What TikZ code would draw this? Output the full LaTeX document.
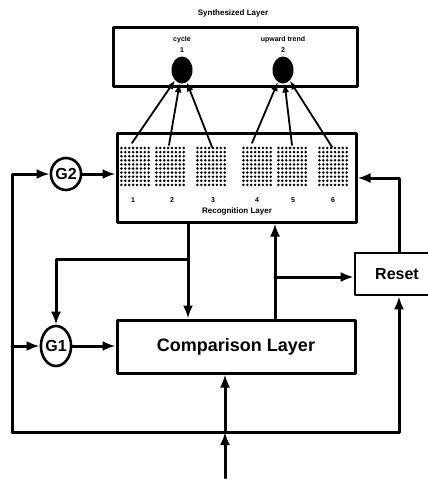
\documentclass[tikz,border=0pt]{standalone}
\usepackage{fontspec}
\setmainfont{Liberation Sans}
\usetikzlibrary{arrows.meta,shapes.geometric}
\begin{document}
\begin{tikzpicture}[x=1pt,y=-1pt,line cap=round,line join=round,
  layer/.style={draw,line width=3pt,inner sep=0pt},
  gate/.style={draw,ellipse,line width=2.6pt,inner sep=0pt,font=\fontsize{16}{16}\selectfont\bfseries},
  unit/.style={ellipse,fill=black,minimum width=21pt,minimum height=27pt,inner sep=0pt},
  lbl/.style={font=\fontsize{7}{8}\selectfont\bfseries,inner sep=0pt},
  arr/.style={line width=3pt,-{Latex[length=13pt,width=10pt]}},
  link/.style={line width=1.8pt,-{Latex[length=9pt,width=7pt]}}]
  \useasboundingbox (0,0) rectangle (428,479);
  % layers
  \node[layer,minimum width=244pt,minimum height=59pt] (synth) at (235,56.5) {};
  \node[layer,minimum width=239pt,minimum height=89pt] (recog) at (236.5,177.5) {};
  \node[layer,minimum width=238pt,minimum height=53pt,font=\fontsize{18}{18}\selectfont\bfseries] (comp) at (236,346.5) {Comparison Layer};
  \node[layer,line width=2.6pt,minimum width=84pt,minimum height=42pt,font=\fontsize{16}{16}\selectfont\bfseries] (reset) at (397,274) {Reset};
  \node[font=\fontsize{8}{9}\selectfont\bfseries] (synthtitle) at (233,13) {Synthesized Layer};
  % synthesized units
  \node[unit] (c1) at (182,70) {};
  \node[unit] (c2) at (283,70) {};
  \node[lbl] (cyc) at (182,40) {cycle};
  \node[lbl] (cycn) at (182,50) {1};
  \node[lbl] (upw) at (283,40) {upward trend};
  \node[lbl] (upwn) at (283,50) {2};
  % recognition grids
  \foreach \gx in {120,155,196,242,277,318}
    \foreach \i in {0,...,7}
      \foreach \j in {0,...,9}
        \fill (\gx+\i*3.9+1.4,148+\j*4.1) circle (1.4pt);
  \foreach \n/\gx in {1/133,2/172,3/213,4/257,5/293,6/333}
    \node[lbl] (num\n) at (\gx,200) {\n};
  \node[font=\fontsize{8}{9}\selectfont\bfseries] (recogtitle) at (237,211) {Recognition Layer};
  \coordinate (s1) at (132,143);
  \coordinate (s2) at (169,145);
  \coordinate (s3) at (212,147);
  \coordinate (s4) at (252,143);
  \coordinate (s5) at (292,145);
  \coordinate (s6) at (332,147);
  \draw[link] (s1) -- (c1);
  \draw[link] (s2) -- (c1);
  \draw[link] (s3) -- (c1);
  \draw[link] (s4) -- (c2);
  \draw[link] (s5) -- (c2);
  \draw[link] (s6) -- (c2);
  % gain units
  \node[gate,minimum width=28pt,minimum height=32pt] (g2) at (66,174) {G2};
  \node[gate,minimum width=28pt,minimum height=40pt] (g1) at (56,346) {G1};
  % connections
  \coordinate (bl) at (12,432);
  \coordinate (in) at (225,478);
  \coordinate (inj) at (225,432);
  \coordinate (b1) at (188,259);
  \coordinate (b2) at (275,277);
  \draw[arr] (recog.south -| b1) -- (comp.north -| b1);
  \draw[arr] (b1) -| (g1.north);
  \draw[arr] (comp.north -| b2) -- (recog.south -| b2);
  \draw[arr] (b2) -- (reset.west |- b2);
  \draw[arr] (reset.north -| 399,0) |- (recog.east |- 0,178);
  \draw[arr] (bl) |- (g2.west);
  \draw[arr] (bl |- g1.west) -- (g1.west);
  \draw[arr] (bl) -| (reset.south -| 399,0);
  \draw[arr] (g2) -- (recog.west |- g2);
  \draw[arr] (g1) -- (comp.west |- g1);
  \draw[arr] (in) -- (inj);
  \draw[arr] (inj) -- (comp.south -| inj);
\end{tikzpicture}
\end{document}
